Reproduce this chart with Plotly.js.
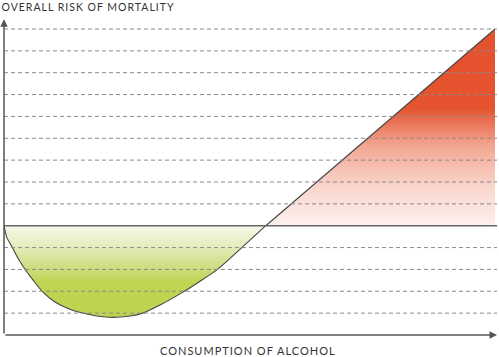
<!DOCTYPE html>
<html>
<head>
<meta charset="utf-8">
<script src="https://cdn.plot.ly/plotly-3.0.1.min.js"></script>
<style>
html,body{margin:0;padding:0;background:#fff;}
#chart{width:499px;height:357px;}
#chart text.annotation-text{letter-spacing:1px;}
</style>
</head>
<body>
<div id="chart"></div>
<script>
// Data (relative units)
const alcohol = [0, 0.055, 0.176, 0.290, 0.426, 0.594, 0.785, 1.034, 1.339, 1.730, 2.150, 2.556, 2.799, 3.164, 3.621, 3.970, 4.331, 4.807, 5.31, 9.96];
const risk    = [5, 4.48, 3.98, 3.49, 3.01, 2.50, 1.97, 1.51, 1.18, 0.94, 0.81, 0.87, 0.99, 1.37, 1.95, 2.45, 3.00, 3.96, 5, 14];
const baselineRisk = 5;
const gridLevels = [1, 2, 3, 4, 6, 7, 8, 9, 10, 11, 12, 13, 14];
const yTitle = 'OVERALL RISK OF MORTALITY';
const xTitle = 'CONSUMPTION OF ALCOHOL';

// split: J-curve part (below baseline) and straight rising part
const nCurve = alcohol.length - 1;
const curveX = alcohol.slice(0, nCurve);
const curveY = risk.slice(0, nCurve);
const lineX = alcohol.slice(nCurve - 1);
const lineY = risk.slice(nCurve - 1);

const traces = [
  { // green benefit area
    x: curveX, y: curveY, type: 'scatter', mode: 'none',
    fill: 'toself',
    fillgradient: {type: 'vertical', start: 0, stop: baselineRisk,
      colorscale: [[0, '#bfd34f'], [0.48, '#c0d452'], [0.68, '#d5e294'], [0.85, '#e8efc6'], [1, '#f7f9ec']]},
    hoverinfo: 'skip'
  },
  { // red harm area
    x: [lineX[0], lineX[1], lineX[1]], y: [lineY[0], lineY[1], baselineRisk],
    type: 'scatter', mode: 'none', fill: 'toself',
    fillgradient: {type: 'vertical', start: baselineRisk, stop: lineY[1],
      colorscale: [[0, '#fdf1ee'], [0.2, '#f9d5cc'], [0.4, '#f3a894'], [0.6, '#e5532f'], [1, '#e5522f']]},
    hoverinfo: 'skip'
  },
  { // J-curve line (smooth)
    x: curveX, y: curveY, type: 'scatter', mode: 'lines',
    line: {shape: 'spline', smoothing: 0.7, color: '#444', width: 1.1}, hoverinfo: 'skip'
  },
  { // rising straight part
    x: lineX, y: lineY, type: 'scatter', mode: 'lines',
    line: {color: '#444', width: 1.1}, hoverinfo: 'skip'
  }
];

const shapes = gridLevels.map(v => ({
  type: 'line', xref: 'paper', x0: 0, x1: 1, yref: 'y', y0: v, y1: v,
  line: {color: '#8a8a8a', width: 1, dash: '4px,3px'}, layer: 'above'
}));
shapes.push({type: 'line', xref: 'paper', x0: 0, x1: 1, yref: 'y', y0: baselineRisk, y1: baselineRisk,
  line: {color: '#666', width: 1.6}, layer: 'above'});

const annotations = [
  {x: 0, y: 14.44, ax: 0, ay: 0, xref: 'x', yref: 'y', axref: 'x', ayref: 'y',
   showarrow: true, arrowhead: 2, arrowsize: 1, arrowwidth: 1.5, arrowcolor: '#555', text: ''},
  {x: 10, y: 0, ax: 0, ay: 0, xref: 'x', yref: 'y', axref: 'x', ayref: 'y',
   showarrow: true, arrowhead: 2, arrowsize: 1, arrowwidth: 1.5, arrowcolor: '#555', text: ''},
  {text: yTitle, xref: 'paper', yref: 'paper', x: 0, y: 1, xshift: 8, yshift: 8,
   xanchor: 'left', yanchor: 'middle', showarrow: false,
   font: {family: 'Lato, "Open Sans", sans-serif', size: 10.5, color: '#333'}},
  {text: xTitle, xref: 'paper', yref: 'paper', x: 0.495, y: 0, yshift: -15,
   xanchor: 'center', yanchor: 'middle', showarrow: false,
   font: {family: 'Lato, "Open Sans", sans-serif', size: 11, color: '#333'}}
];

const layout = {
  width: 499, height: 357,
  margin: {l: 4, r: 2, t: 15, b: 22},
  paper_bgcolor: '#fff', plot_bgcolor: '#fff',
  showlegend: false,
  xaxis: {range: [0, 10], showgrid: false, zeroline: false, showticklabels: false, ticks: '', showline: false, fixedrange: true},
  yaxis: {range: [0, 14.64], showgrid: false, zeroline: false, showticklabels: false, ticks: '', showline: false, fixedrange: true},
  shapes: shapes,
  annotations: annotations
};

Plotly.newPlot('chart', traces, layout, {displayModeBar: false, staticPlot: true});
</script>
</body>
</html>
